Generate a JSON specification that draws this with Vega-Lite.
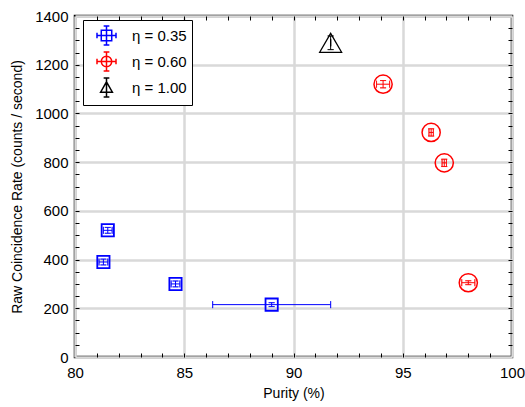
{
  "$schema": "https://vega.github.io/schema/vega-lite/v6.json",
  "width": 437,
  "height": 341,
  "autosize": "none",
  "padding": {"left": 75, "top": 16, "right": 13, "bottom": 50},
  "config": {
    "view": {"stroke": "black", "strokeWidth": 2.5},
    "axis": {
      "labelFont": "Liberation Sans",
      "titleFont": "Liberation Sans",
      "labelFontSize": 15,
      "titleFontSize": 14,
      "titleFontWeight": "normal",
      "labelColor": "black",
      "titleColor": "black",
      "labelFlush": false,
      "domain": false
    },
    "legend": {
      "orient": "none",
      "legendX": 8,
      "legendY": 4,
      "strokeColor": "black",
      "fillColor": "white",
      "padding": 5,
      "rowPadding": 1,
      "symbolOffset": 8,
      "labelOffset": 15,
      "labelFont": "Liberation Sans",
      "labelFontSize": 15,
      "labelColor": "black",
      "symbolSize": 361,
      "symbolStrokeWidth": 1.5,
      "symbolOpacity": 1,
      "symbolFillColor": "transparent",
      "cornerRadius": 0
    }
  },
  "data": {
    "values": [
      {"eta": "η = 0.35", "purity": 81.5, "rate": 520, "xlo": 81.3, "xhi": 81.7, "ylo": 508, "yhi": 532},
      {"eta": "η = 0.35", "purity": 81.3, "rate": 390, "xlo": 81.1, "xhi": 81.5, "ylo": 378, "yhi": 402},
      {"eta": "η = 0.35", "purity": 84.6, "rate": 300, "xlo": 84.4, "xhi": 84.8, "ylo": 288, "yhi": 312},
      {"eta": "η = 0.35", "purity": 89.0, "rate": 215, "xlo": 86.3, "xhi": 91.7, "ylo": 207, "yhi": 223},
      {"eta": "η = 0.60", "purity": 94.1, "rate": 1120, "xlo": 93.8, "xhi": 94.4, "ylo": 1105, "yhi": 1135},
      {"eta": "η = 0.60", "purity": 96.3, "rate": 922, "xlo": 96.2, "xhi": 96.4, "ylo": 907, "yhi": 937},
      {"eta": "η = 0.60", "purity": 96.9, "rate": 797, "xlo": 96.8, "xhi": 97.0, "ylo": 782, "yhi": 812},
      {"eta": "η = 0.60", "purity": 98.0, "rate": 305, "xlo": 97.7, "xhi": 98.3, "ylo": 297, "yhi": 313},
      {"eta": "η = 1.00", "purity": 91.7, "rate": 1290, "xlo": 91.7, "xhi": 91.7, "ylo": 1262, "yhi": 1318}
    ]
  },
  "layer": [
    {
      "mark": {"type": "point", "filled": false, "opacity": 0},
      "encoding": {
        "x": {"field": "purity", "type": "quantitative", "scale": {"domain": [80, 100], "nice": false, "zero": false},
          "axis": {"orient": "bottom", "grid": true, "gridColor": "#d9d9d9", "gridWidth": 2.5, "ticks": false, "values": [80, 85, 90, 95, 100], "labelPadding": 8, "title": "Purity (%)", "titlePadding": 6}},
        "y": {"field": "rate", "type": "quantitative", "scale": {"domain": [0, 1400], "nice": false},
          "axis": {"orient": "left", "grid": true, "gridColor": "#d9d9d9", "gridWidth": 2.5, "ticks": false, "format": "d", "values": [0, 200, 400, 600, 800, 1000, 1200, 1400], "labelPadding": 7, "title": "Raw Coincidence Rate (counts / second)", "titlePadding": 10}},
        "color": {"field": "eta", "type": "nominal",
          "scale": {"domain": ["η = 0.35", "η = 0.60", "η = 1.00"], "range": ["#0000ff", "#ff0000", "#000000"]},
          "legend": {"title": null}},
        "shape": {"field": "eta", "type": "nominal",
          "scale": {"domain": ["η = 0.35", "η = 0.60", "η = 1.00"],
            "range": [
              "M-0.55,-0.55H0.55V0.55H-0.55Z M0,-1V1 M-1,0H1 M-0.3,-1H0.3 M-0.3,1H0.3 M-1,-0.3V0.3 M1,-0.3V0.3",
              "M0.55,0A0.55,0.55 0 1,1 -0.55,0A0.55,0.55 0 1,1 0.55,0Z M0,-1V1 M-1,0H1 M-0.3,-1H0.3 M-0.3,1H0.3 M-1,-0.3V0.3 M1,-0.3V0.3",
              "M0,-0.6L0.62,0.5H-0.62Z M0,-1V1 M-0.3,-1H0.3 M-0.3,1H0.3"
            ]},
          "legend": {"title": null}}
      }
    },
    {
      "mark": {"type": "point", "opacity": 0},
      "encoding": {
        "x": {"field": "purity", "type": "quantitative", "scale": {"domain": [80, 100], "nice": false, "zero": false},
          "axis": {"orient": "bottom", "grid": false, "labels": false, "title": null, "tickSize": -4, "tickColor": "black", "tickWidth": 1,
            "values": [81, 82, 83, 84, 85, 86, 87, 88, 89, 90, 91, 92, 93, 94, 95, 96, 97, 98, 99]}},
        "y": {"field": "rate", "type": "quantitative", "scale": {"domain": [0, 1400], "nice": false},
          "axis": {"orient": "left", "grid": false, "labels": false, "title": null, "tickSize": -4, "tickColor": "black", "tickWidth": 1,
            "values": [50, 100, 150, 200, 250, 300, 350, 400, 450, 500, 550, 600, 650, 700, 750, 800, 850, 900, 950, 1000, 1050, 1100, 1150, 1200, 1250, 1300, 1350]}}
      }
    },
    {
      "mark": {"type": "point", "opacity": 0},
      "encoding": {
        "x": {"field": "purity", "type": "quantitative", "scale": {"domain": [80, 100], "nice": false, "zero": false},
          "axis": {"orient": "top", "grid": false, "labels": false, "title": null, "tickSize": -4, "tickColor": "black", "tickWidth": 1,
            "values": [81, 82, 83, 84, 85, 86, 87, 88, 89, 90, 91, 92, 93, 94, 95, 96, 97, 98, 99]}},
        "y": {"field": "rate", "type": "quantitative", "scale": {"domain": [0, 1400], "nice": false},
          "axis": {"orient": "right", "grid": false, "labels": false, "title": null, "tickSize": -4, "tickColor": "black", "tickWidth": 1,
            "values": [50, 100, 150, 200, 250, 300, 350, 400, 450, 500, 550, 600, 650, 700, 750, 800, 850, 900, 950, 1000, 1050, 1100, 1150, 1200, 1250, 1300, 1350]}}
      }
    },
    {
      "mark": {"type": "rule", "strokeWidth": 1},
      "encoding": {
        "x": {"field": "xlo", "type": "quantitative", "axis": null, "scale": {"domain": [80, 100], "nice": false, "zero": false}},
        "x2": {"field": "xhi"},
        "y": {"field": "rate", "type": "quantitative", "axis": null, "scale": {"domain": [0, 1400], "nice": false}},
        "color": {"field": "eta", "type": "nominal"}
      }
    },
    {
      "mark": {"type": "rule", "strokeWidth": 1},
      "encoding": {
        "x": {"field": "purity", "type": "quantitative", "axis": null, "scale": {"domain": [80, 100], "nice": false, "zero": false}},
        "y": {"field": "ylo", "type": "quantitative", "axis": null, "scale": {"domain": [0, 1400], "nice": false}},
        "y2": {"field": "yhi"},
        "color": {"field": "eta", "type": "nominal"}
      }
    },
    {
      "mark": {"type": "tick", "orient": "vertical", "size": 7, "thickness": 0.01, "filled": false, "strokeWidth": 1},
      "encoding": {
        "x": {"field": "xlo", "type": "quantitative", "axis": null, "scale": {"domain": [80, 100], "nice": false, "zero": false}},
        "y": {"field": "rate", "type": "quantitative", "axis": null, "scale": {"domain": [0, 1400], "nice": false}},
        "color": {"field": "eta", "type": "nominal"}
      }
    },
    {
      "mark": {"type": "tick", "orient": "vertical", "size": 7, "thickness": 0.01, "filled": false, "strokeWidth": 1},
      "encoding": {
        "x": {"field": "xhi", "type": "quantitative", "axis": null, "scale": {"domain": [80, 100], "nice": false, "zero": false}},
        "y": {"field": "rate", "type": "quantitative", "axis": null, "scale": {"domain": [0, 1400], "nice": false}},
        "color": {"field": "eta", "type": "nominal"}
      }
    },
    {
      "mark": {"type": "tick", "orient": "horizontal", "size": 6, "thickness": 0.01, "filled": false, "strokeWidth": 1},
      "encoding": {
        "x": {"field": "purity", "type": "quantitative", "axis": null, "scale": {"domain": [80, 100], "nice": false, "zero": false}},
        "y": {"field": "ylo", "type": "quantitative", "axis": null, "scale": {"domain": [0, 1400], "nice": false}},
        "color": {"field": "eta", "type": "nominal"}
      }
    },
    {
      "mark": {"type": "tick", "orient": "horizontal", "size": 6, "thickness": 0.01, "filled": false, "strokeWidth": 1},
      "encoding": {
        "x": {"field": "purity", "type": "quantitative", "axis": null, "scale": {"domain": [80, 100], "nice": false, "zero": false}},
        "y": {"field": "yhi", "type": "quantitative", "axis": null, "scale": {"domain": [0, 1400], "nice": false}},
        "color": {"field": "eta", "type": "nominal"}
      }
    },
    {
      "transform": [{"filter": "datum.eta == 'η = 0.35'"}],
      "mark": {"type": "point", "shape": "square", "filled": false, "size": 150, "strokeWidth": 1.8, "color": "#0000ff", "opacity": 1},
      "encoding": {
        "x": {"field": "purity", "type": "quantitative", "axis": null, "scale": {"domain": [80, 100], "nice": false, "zero": false}},
        "y": {"field": "rate", "type": "quantitative", "axis": null, "scale": {"domain": [0, 1400], "nice": false}}
      }
    },
    {
      "transform": [{"filter": "datum.eta == 'η = 0.60'"}],
      "mark": {"type": "point", "shape": "circle", "filled": false, "size": 330, "strokeWidth": 1.5, "color": "#ff0000", "opacity": 1},
      "encoding": {
        "x": {"field": "purity", "type": "quantitative", "axis": null, "scale": {"domain": [80, 100], "nice": false, "zero": false}},
        "y": {"field": "rate", "type": "quantitative", "axis": null, "scale": {"domain": [0, 1400], "nice": false}}
      }
    },
    {
      "transform": [{"filter": "datum.eta == 'η = 1.00'"}],
      "mark": {"type": "point", "shape": "triangle-up", "filled": false, "size": 480, "strokeWidth": 1.3, "color": "#000000", "opacity": 1},
      "encoding": {
        "x": {"field": "purity", "type": "quantitative", "axis": null, "scale": {"domain": [80, 100], "nice": false, "zero": false}},
        "y": {"field": "rate", "type": "quantitative", "axis": null, "scale": {"domain": [0, 1400], "nice": false}}
      }
    }
  ],
  "resolve": {"axis": {"x": "independent", "y": "independent"}}
}
